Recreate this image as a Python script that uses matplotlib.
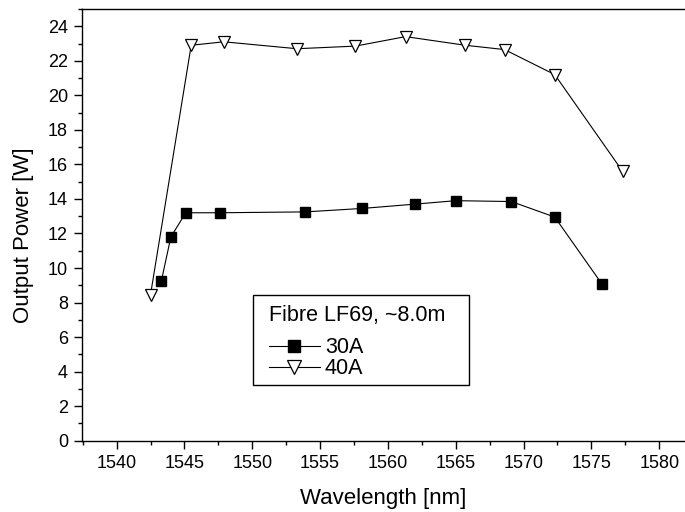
import matplotlib
matplotlib.use("Agg")
import matplotlib.pyplot as plt
from matplotlib.patches import Rectangle
from matplotlib.ticker import MultipleLocator

plt.rcParams['font.family'] = ['Liberation Sans', 'DejaVu Sans']

# 30A series
wl_30 = [1543.3, 1544.0, 1545.1, 1547.6, 1553.9, 1558.1, 1562.0, 1565.0, 1569.1, 1572.3, 1575.8]
p_30 = [9.25, 11.8, 13.2, 13.2, 13.25, 13.45, 13.7, 13.9, 13.85, 12.95, 9.05]

# 40A series
wl_40 = [1542.5, 1545.5, 1547.9, 1553.3, 1557.6, 1561.3, 1565.7, 1568.6, 1572.3, 1577.3]
p_40 = [8.45, 22.9, 23.1, 22.7, 22.85, 23.4, 22.9, 22.65, 21.2, 15.6]

legend_title = "Fibre LF69, ~8.0m"

fig = plt.figure(figsize=(6.85, 5.12), dpi=100)
ax = fig.add_axes([82 / 685, 1 - 440.7 / 512, 1 - 82 / 685, (440.7 - 9) / 512])

ax.plot(wl_30, p_30, color='black', lw=0.8, marker='s', ms=7,
        mfc='black', mec='black', label='30A')
ax.plot(wl_40, p_40, color='black', lw=0.8, marker='v', ms=8.5,
        mfc='white', mec='black', mew=0.9, label='40A')

ax.set_xlim(1537.45, 1581.9)
ax.set_ylim(0, 25)
ax.xaxis.set_major_locator(MultipleLocator(5))
ax.xaxis.set_minor_locator(MultipleLocator(2.5))
ax.yaxis.set_major_locator(MultipleLocator(2))
ax.yaxis.set_minor_locator(MultipleLocator(1))
ax.tick_params(which='major', direction='out', length=6, width=1, labelsize=13, pad=4)
ax.tick_params(which='minor', direction='out', length=3, width=1)
ax.spines['right'].set_visible(False)
for s in ['left', 'top', 'bottom']:
    ax.spines[s].set_linewidth(1.0)

ax.set_xlabel('Wavelength [nm]', fontsize=16, labelpad=11.5)
ax.set_ylabel('Output Power [W]', fontsize=16)
ax.yaxis.set_label_coords(-0.079, 0.4765)

# legend without its own frame, box drawn separately (Origin-style padding)
box = Rectangle((253 / 685, 1 - 385 / 512), 216 / 685, 90 / 512,
                transform=fig.transFigure, fill=True, fc='white',
                ec='black', lw=1.0, zorder=4, clip_on=False)
ax.add_artist(box)
leg = ax.legend(title=legend_title, fontsize=15.5, title_fontsize=15.5,
                loc='upper left', bbox_to_anchor=(269 / 685, 1 - 304.5 / 512),
                bbox_transform=fig.transFigure, frameon=False,
                handlelength=2.35, handletextpad=0.24, borderpad=0,
                labelspacing=0.0, markerscale=1.2,
                alignment='left', borderaxespad=0)
leg._legend_box.sep = 8.5
leg.set_zorder(6)

fig.savefig('out.png', dpi=100)
